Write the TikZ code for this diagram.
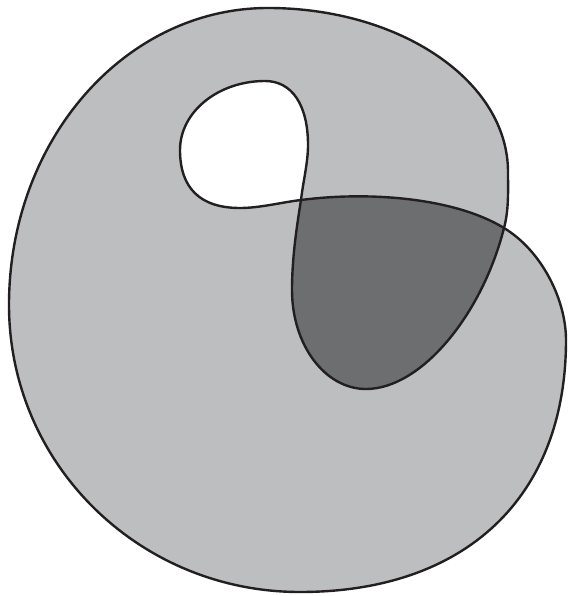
\documentclass[tikz,border=0pt]{standalone}
\definecolor{lightfill}{RGB}{188,190,192}
\definecolor{darkfill}{RGB}{109,110,112}
\definecolor{inkline}{RGB}{35,31,32}
\begin{document}
\begin{tikzpicture}[x=1pt,y=-1pt]
\tikzset{outline/.style={draw=inkline, line width=2.4pt, line join=round, line cap=round}}
\useasboundingbox (0,0) rectangle (569,596);
% crossing points and key points
\coordinate (A) at (301,200);
\coordinate (B) at (504,228);
\coordinate (R) at (566,340);
\coordinate (Bot) at (300,592);
\coordinate (L) at (9,305);
\coordinate (T) at (268,8);
\coordinate (UR) at (508,172);
\coordinate (Dbot) at (366,389);
\coordinate (Dleft) at (292,290);
\coordinate (Rmax) at (308,145);
\coordinate (Ltop) at (265,81);
\coordinate (Lleft) at (180,150);
\coordinate (Lbot) at (240,208);
% outer region
\fill[lightfill] (B) .. controls (542,251) and (566,300) .. (R)
  .. controls (566,497) and (466,592) .. (Bot)
  .. controls (139,592) and (9,464) .. (L)
  .. controls (9,140) and (125,8) .. (T)
  .. controls (400,8) and (508,81) .. (UR)
  .. controls (508,191) and (509,209) .. (B) -- cycle;
% overlap region
\fill[darkfill] (A) .. controls (370,191) and (455,198) .. (B)
  .. controls (482,315) and (421,389) .. (Dbot)
  .. controls (325,389) and (292,345) .. (Dleft)
  .. controls (292,260) and (296,231) .. (A) -- cycle;
% hole
\fill[white] (A) .. controls (303,182) and (308,163) .. (Rmax)
  .. controls (308,105) and (292,81) .. (Ltop)
  .. controls (218,81) and (180,112) .. (Lleft)
  .. controls (180,188) and (200,208) .. (Lbot)
  .. controls (260,208) and (281,202.4) .. (A) -- cycle;
% the whole curve
\path[outline] (A) .. controls (370,191) and (455,198) .. (B)
  .. controls (542,251) and (566,300) .. (R)
  .. controls (566,497) and (466,592) .. (Bot)
  .. controls (139,592) and (9,464) .. (L)
  .. controls (9,140) and (125,8) .. (T)
  .. controls (400,8) and (508,81) .. (UR)
  .. controls (508,191) and (509,209) .. (B)
  .. controls (482,315) and (421,389) .. (Dbot)
  .. controls (325,389) and (292,345) .. (Dleft)
  .. controls (292,260) and (296,231) .. (A)
  .. controls (303,182) and (308,163) .. (Rmax)
  .. controls (308,105) and (292,81) .. (Ltop)
  .. controls (218,81) and (180,112) .. (Lleft)
  .. controls (180,188) and (200,208) .. (Lbot)
  .. controls (260,208) and (281,202.4) .. (A) -- cycle;
\end{tikzpicture}
\end{document}
